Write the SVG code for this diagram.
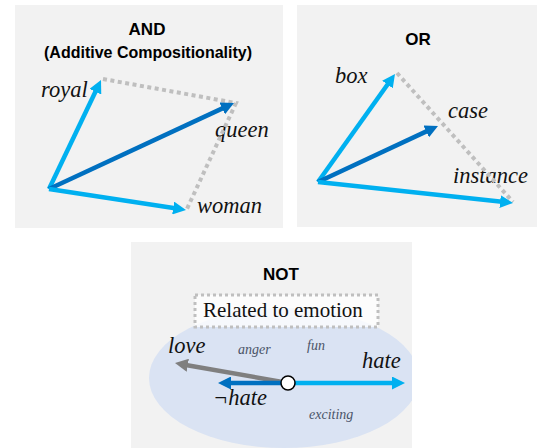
<svg xmlns="http://www.w3.org/2000/svg" width="537" height="448" viewBox="0 0 537 448">
<style>
.panel{fill:#F2F2F2}
.title{font-family:"Liberation Sans",Arial,sans-serif;font-weight:bold;fill:#000;text-anchor:middle}
.lbl{font-family:"Liberation Serif","Times New Roman",serif;font-style:italic;font-size:22.5px;fill:#111}
.small{font-family:"Liberation Serif","Times New Roman",serif;font-style:italic;font-size:14px;fill:#4A5468}
.lb{stroke:#00B0F0;stroke-width:4.5;fill:none}
.db{stroke:#0070C0;stroke-width:4.5;fill:none}
.gr{stroke:#7F7F7F;stroke-width:4.5;fill:none}
.dot{stroke:#BFBFBF;stroke-width:4;fill:none;stroke-dasharray:4 3.5}
</style>
<defs>
<marker id="hLB" markerUnits="userSpaceOnUse" markerWidth="13" markerHeight="13" refX="2" refY="6.5" orient="auto"><path d="M0,0 L13,6.5 L0,13 z" fill="#00B0F0"/></marker>
<marker id="hDB" markerUnits="userSpaceOnUse" markerWidth="13" markerHeight="13" refX="2" refY="6.5" orient="auto"><path d="M0,0 L13,6.5 L0,13 z" fill="#0070C0"/></marker>
<marker id="hGR" markerUnits="userSpaceOnUse" markerWidth="13" markerHeight="13" refX="2" refY="6.5" orient="auto"><path d="M0,0 L13,6.5 L0,13 z" fill="#7F7F7F"/></marker>
<clipPath id="c3"><rect x="131" y="242" width="281" height="206"/></clipPath>
</defs>

<g id="panel-and">
<rect class="panel" x="15" y="5" width="268" height="223"/>
<text class="title" x="147" y="35" font-size="17">AND</text>
<text class="title" x="148" y="58" font-size="16">(Additive Compositionality)</text>
<text class="lbl" x="41" y="97">royal</text>
<text class="lbl" x="215" y="137">queen</text>
<text class="lbl" x="197" y="213">woman</text>
</g>

<g id="panel-or">
<rect class="panel" x="297" y="5" width="240" height="222"/>
<text class="title" x="418" y="45" font-size="17">OR</text>
<text class="lbl" x="335" y="83">box</text>
<text class="lbl" x="448" y="118">case</text>
<text class="lbl" x="453" y="183">instance</text>
</g>

<g id="panel-not">
<rect class="panel" x="131" y="242" width="281" height="206"/>
<ellipse cx="284" cy="378" rx="135" ry="70" fill="#DAE3F3" clip-path="url(#c3)"/>
<text class="title" x="281" y="280" font-size="17">NOT</text>
<g id="emotion-box">
<rect x="195" y="295" width="183" height="32" fill="#FFFFFF" fill-opacity="0.75" stroke="#BFBFBF" stroke-width="3" stroke-dasharray="3 3"/>
<text x="203" y="317" font-family="'Liberation Serif','Times New Roman',serif" font-size="21" fill="#111">Related to emotion</text>
</g>
<text class="lbl" x="168" y="353">love</text>
<text class="lbl" x="362" y="368">hate</text>
<text class="lbl" x="213" y="405">¬hate</text>
<text class="small" x="238" y="354">anger</text>
<text class="small" x="307" y="350">fun</text>
<text class="small" x="309" y="419">exciting</text>
</g>

<g id="connectors">
<polyline class="dot" points="103,79 236,103 186,211"/>
<polyline class="dot" points="397,73 513,202"/>
<line class="lb" x1="49" y1="189" x2="96.26" y2="89.93" marker-end="url(#hLB)"/>
<line class="db" x1="49" y1="189" x2="224.03" y2="107.64" marker-end="url(#hDB)"/>
<line class="lb" x1="49" y1="189" x2="175.13" y2="208.33" marker-end="url(#hLB)"/>
<line class="lb" x1="318" y1="182" x2="388.61" y2="82.96" marker-end="url(#hLB)"/>
<line class="db" x1="318" y1="182" x2="428.03" y2="130.65" marker-end="url(#hDB)"/>
<line class="lb" x1="318" y1="182" x2="502.06" y2="201.82" marker-end="url(#hLB)"/>
<line class="gr" x1="288" y1="383" x2="185.83" y2="364.92" marker-end="url(#hGR)"/>
<line class="db" x1="288" y1="383" x2="229" y2="383" marker-end="url(#hDB)"/>
<line class="lb" x1="288" y1="383" x2="394" y2="383" marker-end="url(#hLB)"/>
<circle cx="288" cy="383" r="7" fill="#FFFFFF" stroke="#000" stroke-width="1.5"/>
</g>
</svg>
